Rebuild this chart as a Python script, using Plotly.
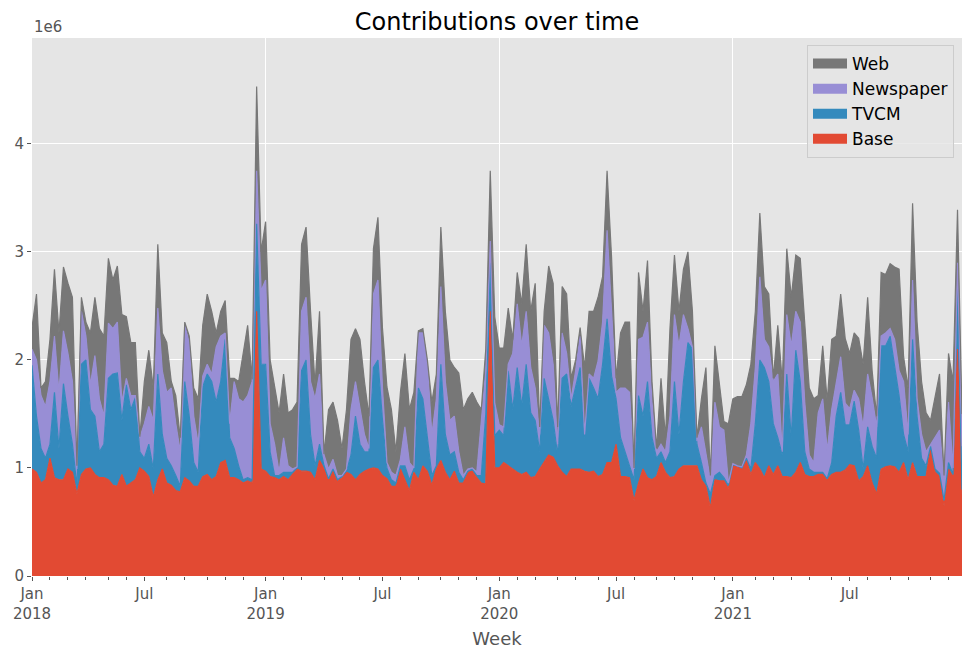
import pandas as pd
import plotly.graph_objects as go

# Weekly contributions (units of 1e6), 208 weeks starting first week of 2018
weeks = pd.date_range("2018-01-01", periods=208, freq="W-MON")

base = [
    0.99, 0.96, 0.86, 0.89, 1.09, 0.91, 0.89, 0.89, 0.99, 0.96,
    0.76, 0.94, 0.99, 1.00, 0.94, 0.91, 0.91, 0.89, 0.84, 0.83,
    0.94, 0.83, 0.86, 0.89, 1.00, 0.97, 0.92, 0.73, 0.89, 0.99,
    0.86, 0.84, 0.79, 0.78, 0.91, 0.88, 0.83, 0.83, 0.92, 0.94,
    0.89, 0.92, 1.05, 1.07, 0.91, 0.91, 0.89, 0.86, 0.88, 0.86,
    2.45, 0.99, 0.97, 0.92, 0.91, 0.89, 0.92, 0.89, 0.94, 0.99,
    0.97, 0.97, 0.96, 0.89, 1.07, 0.99, 0.89, 0.97, 0.88, 0.91,
    0.96, 0.94, 0.89, 0.94, 0.97, 0.99, 1.00, 0.99, 0.93, 0.90,
    0.83, 0.83, 0.99, 0.89, 0.79, 0.96, 0.89, 1.02, 0.97, 0.84,
    0.99, 1.07, 0.96, 0.89, 0.97, 0.86, 0.86, 0.96, 0.97, 0.91,
    0.86, 0.85, 2.45, 1.00, 1.00, 1.05, 1.02, 0.99, 0.96, 0.94,
    0.96, 0.91, 0.92, 0.99, 1.05, 1.12, 1.10, 1.02, 0.96, 0.92,
    0.99, 0.99, 0.99, 0.97, 0.96, 0.97, 0.92, 0.94, 1.05, 1.05,
    1.22, 0.92, 0.92, 0.91, 0.70, 0.86, 0.99, 0.91, 0.89, 0.92,
    1.05, 0.96, 0.91, 0.92, 0.99, 1.02, 1.02, 1.02, 1.02, 0.89,
    0.83, 0.63, 0.89, 0.88, 0.88, 0.81, 1.02, 1.01, 0.99, 1.07,
    0.94, 1.05, 0.99, 0.91, 1.02, 0.94, 1.02, 0.92, 0.92, 0.91,
    0.96, 1.05, 0.94, 0.92, 0.92, 0.94, 0.94, 0.89, 0.94, 0.96,
    0.96, 0.98, 1.03, 1.02, 0.88, 0.92, 1.02, 0.86, 0.76, 0.99,
    1.01, 1.02, 1.01, 0.96, 1.05, 0.89, 1.05, 0.92, 0.92, 0.92,
    1.18, 0.96, 0.92, 0.65, 0.99, 0.92, 2.10, 0.75,
]

tvcm = [
    0.96, 0.52, 0.32, 0.20, 0.13, 0.79, 0.29, 0.89, 0.49, 0.26,
    0.07, 1.02, 1.01, 0.54, 0.54, 0.24, 0.31, 0.94, 1.03, 1.05,
    0.50, 0.94, 0.68, 0.76, 0.15, 0.12, 0.30, 0.26, 0.98, 0.32,
    0.23, 0.18, 0.14, 0.05, 0.89, 0.60, 0.22, 0.13, 0.83, 0.93,
    0.91, 0.69, 0.75, 1.12, 0.37, 0.27, 0.13, 0.03, 0.03, 0.03,
    0.81, 0.97, 0.99, 0.23, 0.02, 0.04, 0.04, 0.07, 0.02, 0.01,
    0.93, 1.03, 0.35, 0.13, 0.15, 0.03, 0.01, 0.02, 0.01, 0.01,
    0.01, 0.18, 0.59, 0.28, 0.18, 0.16, 0.93, 1.01, 0.52, 0.10,
    0.06, 0.03, 0.03, 0.13, 0.10, 0.03, 0.85, 0.62, 0.34, 0.09,
    0.03, 0.89, 0.35, 0.23, 0.18, 0.10, 0.03, 0.01, 0.02, 0.02,
    0.07, 0.65, 0.45, 0.30, 0.35, 0.25, 0.88, 0.55, 0.97, 0.63,
    1.00, 0.60, 0.52, 0.16, 0.78, 0.52, 0.34, 0.10, 0.87, 0.95,
    0.58, 0.76, 0.94, 0.31, 0.87, 0.77, 0.72, 1.02, 1.33, 0.80,
    0.42, 0.36, 0.23, 0.11, 0.19, 0.81, 0.49, 0.89, 0.39, 0.17,
    0.10, 0.09, 0.24, 0.88, 0.32, 0.78, 1.14, 1.08, 0.20, 0.16,
    0.03, 0.13, 0.04, 0.08, 0.03, 0.03, 0.01, 0.01, 0.01, 0.02,
    0.05, 0.36, 1.01, 1.02, 0.78, 0.47, 0.26, 0.20, 0.95, 0.37,
    1.13, 0.75, 0.21, 0.07, 0.04, 0.02, 0.02, 0.01, 0.11, 0.52,
    0.74, 0.42, 0.37, 0.60, 0.47, 0.07, 0.36, 0.34, 0.33, 1.14,
    1.12, 1.20, 0.92, 0.71, 0.26, 0.26, 1.14, 0.56, 0.17, 0.10,
    0.02, 0.03, 0.03, 0.05, 0.06, 0.02, 0.59, 0.05,
]

newspaper = [
    0.15, 0.52, 0.49, 0.48, 0.58, 0.52, 0.52, 0.49, 0.58, 0.58,
    0.16, 0.49, 0.22, 0.23, 0.56, 0.49, 0.26, 0.51, 0.42, 0.47,
    0.17, 0.06, 0.13, 0.02, 0.13, 0.32, 0.35, 0.45, 0.61, 0.59,
    0.61, 0.72, 0.48, 0.32, 0.52, 0.68, 0.43, 0.26, 0.10, 0.09,
    0.07, 0.51, 0.42, 0.06, 0.13, 0.62, 0.62, 0.72, 0.76, 0.91,
    0.49, 0.68, 0.78, 0.26, 0.29, 0.03, 0.32, 0.06, 0.03, 0.01,
    0.55, 0.58, 0.49, 0.62, 0.65, 0.10, 0.09, 0.09, 0.04, 0.01,
    0.02, 0.42, 0.32, 0.32, 0.16, 0.03, 0.68, 0.74, 0.30, 0.05,
    0.07, 0.07, 0.06, 0.36, 0.16, 0.01, 0.51, 0.61, 0.65, 0.38,
    0.62, 0.72, 0.49, 0.32, 0.33, 0.19, 0.04, 0.02, 0.01, 0.03,
    0.51, 0.40, 0.20, 0.30, 0.05, 0.08, 0.06, 0.52, 0.59, 0.56,
    0.49, 0.42, 0.30, 0.16, 0.49, 0.61, 0.52, 0.10, 0.42, 0.19,
    0.07, 0.15, 0.29, 0.03, 0.04, 0.09, 0.35, 0.39, 0.82, 0.60,
    0.06, 0.46, 0.59, 0.68, 0.10, 0.52, 0.73, 0.55, 0.33, 0.06,
    0.07, 0.10, 0.33, 0.62, 0.82, 0.62, 0.13, 0.02, 0.03, 0.33,
    0.29, 0.13, 0.68, 0.42, 0.44, 0.02, 0.01, 0.00, 0.01, 0.03,
    0.42, 0.52, 0.77, 0.26, 0.32, 0.39, 0.59, 0.03, 0.55, 0.85,
    0.36, 0.55, 0.46, 0.13, 0.09, 0.55, 0.68, 0.26, 0.49, 0.32,
    0.33, 0.20, 0.15, 0.10, 0.29, 0.39, 0.49, 0.45, 0.29, 0.09,
    0.12, 0.07, 0.26, 0.23, 0.49, 0.16, 0.55, 0.16, 0.22, 0.13,
    0.02, 0.29, 0.40, 0.19, 0.56, 0.06, 0.21, 0.40,
]

web = [
    0.20, 0.61, 0.07, 0.23, 0.39, 0.62, 0.55, 0.59, 0.65, 0.78,
    0.03, 0.13, 0.13, 0.48, 0.54, 0.65, 0.74, 0.60, 0.45, 0.52,
    0.81, 0.57, 0.49, 0.49, 0.01, 0.39, 0.52, 0.30, 0.59, 0.35,
    0.46, 0.06, 0.26, 0.13, 0.03, 0.06, 0.26, 0.42, 0.47, 0.65,
    0.58, 0.13, 0.23, 0.30, 0.42, 0.03, 0.16, 0.45, 0.65, 0.02,
    0.78, 0.36, 0.54, 0.59, 0.55, 0.55, 0.59, 0.49, 0.55, 0.60,
    0.62, 0.65, 0.65, 0.13, 0.58, 0.01, 0.55, 0.53, 0.51, 0.25,
    0.55, 0.65, 0.49, 0.65, 0.49, 0.30, 0.42, 0.58, 0.55, 0.70,
    0.58, 0.22, 0.62, 0.68, 0.49, 0.70, 0.02, 0.04, 0.04, 0.30,
    0.23, 0.55, 0.65, 0.56, 0.45, 0.73, 0.61, 0.65, 0.70, 0.65,
    0.10, 0.20, 0.65, 0.80, 0.71, 0.73, 0.52, 0.13, 0.29, 0.39,
    0.62, 0.52, 0.97, 0.07, 0.13, 0.62, 0.75, 0.16, 0.43, 0.55,
    0.19, 0.10, 0.08, 0.62, 0.58, 0.62, 0.59, 0.42, 0.55, 0.50,
    0.13, 0.51, 0.61, 0.65, 0.01, 0.62, 0.24, 0.57, 0.19, 0.03,
    0.61, 0.13, 0.81, 0.55, 0.32, 0.42, 0.71, 0.33, 0.03, 0.26,
    0.78, 0.04, 0.52, 0.42, 0.08, 0.55, 0.60, 0.64, 0.65, 0.65,
    0.55, 0.52, 0.59, 0.49, 0.49, 0.03, 0.45, 0.65, 0.61, 0.45,
    0.52, 0.59, 0.68, 0.62, 0.59, 0.16, 0.49, 0.46, 0.65, 0.42,
    0.58, 0.60, 0.51, 0.53, 0.56, 0.58, 0.71, 0.25, 0.10, 0.59,
    0.54, 0.60, 0.67, 0.94, 0.23, 0.43, 0.71, 0.71, 0.49, 0.36,
    0.22, 0.38, 0.52, 0.04, 0.45, 0.80, 0.49, 0.30,
]

series_names = ["Base", "TVCM", "Newspaper", "Web"]
series_colors = ["#E24A33", "#348ABD", "#988ED5", "#777777"]

# Tick positions: the week containing the 1st of each month
month_starts = pd.date_range("2018-01-01", "2021-12-01", freq="MS")
month_weeks = [m - pd.Timedelta(days=m.weekday()) for m in month_starts]
major_weeks = [w for m, w in zip(month_starts, month_weeks) if m.month in (1, 7)]
major_text = [("Jan<br>%d" % m.year) if m.month == 1 else "Jul"
              for m in month_starts if m.month in (1, 7)]
jan_weeks = [w for m, w in zip(month_starts, month_weeks) if m.month == 1]

fig = go.Figure()
for name, vals, col in zip(series_names, [base, tvcm, newspaper, web], series_colors):
    fig.add_trace(go.Scatter(
        x=weeks, y=vals, name=name, mode="lines", stackgroup="one",
        line=dict(color=col, width=1.2), fillcolor=col, hoverinfo="skip",
        showlegend=False,
    ))

# legend-only entries drawn as thick colour patches
for name, col in zip(series_names, series_colors):
    fig.add_trace(go.Scatter(
        x=[None], y=[None], name=name, mode="lines",
        line=dict(color=col, width=12), hoverinfo="skip", showlegend=True,
    ))

# helper trace so the grid-only axis is drawn
fig.add_trace(go.Scatter(x=[weeks[0]], y=[0], xaxis="x2", mode="markers",
                         marker=dict(opacity=0), showlegend=False, hoverinfo="skip"))

tick_font = dict(family="DejaVu Sans", size=15, color="#555555")

# the page places the figure 8 px in from the top-left corner
W, H = 963, 651

fig.update_layout(
    width=W, height=H,
    margin=dict(l=24, r=9, t=30, b=83, autoexpand=False),
    paper_bgcolor="white", plot_bgcolor="#E5E5E5",
    font=dict(family="DejaVu Sans", color="#555555"),
    title=dict(text="Contributions over time", x=489 / W, xanchor="center",
               yref="container", y=1 - 14 / H, yanchor="middle",
               font=dict(family="DejaVu Sans", size=24, color="black")),
    showlegend=True,
    legend=dict(traceorder="reversed", x=0.9914, xanchor="right", y=0.987, yanchor="top",
                bgcolor="rgba(229,229,229,0.8)", bordercolor="#CCCCCC", borderwidth=1,
                font=dict(family="DejaVu Sans", size=17, color="black"),
                itemwidth=34, tracegroupgap=0),
    xaxis=dict(
        range=[weeks[0], weeks[-1]], tickmode="array", tickvals=major_weeks,
        ticktext=major_text, tickangle=0, showgrid=False, zeroline=False,
        ticks="outside", ticklen=4, tickcolor="#555555", tickfont=tick_font,
        minor=dict(tickmode="array", tickvals=month_weeks, ticks="outside",
                   ticklen=2.5, tickcolor="#555555", showgrid=False),
        title=dict(text="Week", standoff=10,
                   font=dict(family="DejaVu Sans", size=18, color="#555555")),
        showline=False, automargin=False,
    ),
    xaxis2=dict(
        overlaying="x", matches="x", tickmode="array", tickvals=jan_weeks,
        showticklabels=False, ticks="", showgrid=True, gridcolor="white",
        gridwidth=1, zeroline=False, side="bottom", automargin=False,
    ),
    yaxis=dict(
        range=[0, 4.98], tickmode="array", tickvals=[0, 1, 2, 3, 4],
        ticktext=["0", "1", "2", "3", "4"], showgrid=True, gridcolor="white",
        gridwidth=1, zeroline=False, ticks="outside", ticklen=4,
        tickcolor="#555555", tickfont=tick_font, showline=False, automargin=False,
    ),
    annotations=[dict(text="1e6", xref="paper", yref="paper", x=0, y=1.0,
                      xanchor="left", yanchor="bottom", showarrow=False,
                      font=dict(family="DejaVu Sans", size=15, color="#555555"))],
)

fig.write_html("out.html")
